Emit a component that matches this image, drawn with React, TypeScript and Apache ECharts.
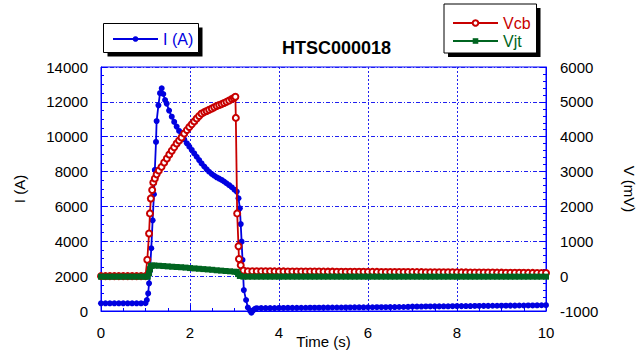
import React, { useEffect, useRef } from 'react';
import * as echarts from 'echarts';

const FONT = '"Liberation Sans", Arial, Helvetica, sans-serif';
const BLUE = '#0000e0';
const RED = '#c80000';
const GREEN = '#006420';
const AXIS_BLUE = '#0000ff';
const GRID_BLUE = '#2020f0';

const chartTitle = 'HTSC000018';
const xName = 'Time (s)';
const yLeftName = 'I (A)';
const yRightName = 'V (mV)';

// [time (s), current (A)]
const currentA: [number, number][] = [
  [0, 440], [0.1, 440], [0.2, 440], [0.3, 440], [0.4, 440], [0.5, 440], [0.6, 440], [0.7, 440], [0.8, 440], [0.9, 440], [1.0, 450],
  [1.03, 630], [1.06, 1010], [1.08, 1590], [1.1, 2300], [1.13, 3600], [1.16, 5200], [1.19, 6700], [1.21, 8100], [1.236, 9700],
  [1.25, 10900], [1.29, 11800], [1.326, 12500], [1.364, 12780], [1.4, 12450], [1.44, 12100], [1.476, 11900], [1.53, 11500],
  [1.59, 11150], [1.645, 10850], [1.7, 10580], [1.755, 10330], [1.81, 10100], [1.87, 9850], [1.93, 9620], [1.985, 9430],
  [2.04, 9240], [2.095, 9040], [2.15, 8850], [2.205, 8660], [2.26, 8470], [2.32, 8290], [2.375, 8130], [2.43, 7990],
  [2.49, 7860], [2.545, 7760], [2.6, 7670], [2.655, 7600], [2.71, 7520], [2.765, 7430], [2.82, 7330], [2.88, 7220],
  [2.94, 7100], [3.0, 6960], [3.05, 6850], [3.09, 6470], [3.12, 5890], [3.14, 4990], [3.16, 3980], [3.18, 2930],
  [3.21, 1200], [3.26, 630], [3.3, 200], [3.35, 20], [3.38, -100], [3.42, 40], [3.46, 130],
  [3.5, 160], [3.6, 165], [3.7, 165], [3.8, 170], [3.9, 170], [4.0, 175], [4.1, 175], [4.2, 180], [4.3, 180], [4.4, 180],
  [4.5, 185], [4.6, 185], [4.7, 190], [4.8, 190], [4.9, 190], [5.0, 195], [5.1, 195], [5.2, 200], [5.3, 200], [5.4, 200],
  [5.5, 205], [5.6, 205], [5.7, 210], [5.8, 210], [5.9, 210], [6.0, 215], [6.1, 215], [6.2, 220], [6.3, 220], [6.4, 220],
  [6.5, 225], [6.6, 225], [6.7, 230], [6.8, 230], [6.9, 235], [7.0, 250], [7.1, 255], [7.2, 255], [7.3, 260], [7.4, 260],
  [7.5, 265], [7.6, 265], [7.7, 270], [7.8, 270], [7.9, 275], [8.0, 280], [8.1, 280], [8.2, 285], [8.3, 285], [8.4, 290],
  [8.5, 290], [8.6, 295], [8.7, 295], [8.8, 300], [8.9, 300], [9.0, 305], [9.1, 305], [9.2, 310], [9.3, 310], [9.4, 315],
  [9.5, 315], [9.6, 320], [9.7, 320], [9.8, 325], [9.9, 330], [10.0, 335],
];

// [time (s), Vcb (mV)]
const vcbMv: [number, number][] = [
  [0, 0], [0.1, 0], [0.2, 0], [0.3, 0], [0.4, 0], [0.5, 0], [0.6, 0], [0.7, 0], [0.8, 0], [0.9, 0], [1.0, 0],
  [1.04, 470], [1.08, 1225], [1.1, 1800], [1.12, 2230], [1.15, 2470], [1.175, 2690], [1.21, 2800], [1.25, 2920],
  [1.3, 3030], [1.36, 3135], [1.42, 3260], [1.48, 3375], [1.535, 3490], [1.59, 3595], [1.645, 3700], [1.7, 3805],
  [1.755, 3890], [1.81, 3980], [1.87, 4090], [1.93, 4190], [1.985, 4280], [2.04, 4360], [2.095, 4440], [2.15, 4520],
  [2.205, 4595], [2.26, 4665], [2.32, 4705], [2.375, 4740], [2.43, 4775], [2.49, 4810], [2.545, 4845], [2.6, 4880],
  [2.655, 4910], [2.71, 4935], [2.765, 4965], [2.82, 5000], [2.88, 5040], [2.94, 5080], [2.985, 5110], [3.02, 5145],
  [3.03, 4540], [3.06, 1800], [3.09, 860], [3.1, 490], [3.14, 315], [3.2, 160],
  [3.3, 140], [3.4, 140], [3.5, 140], [3.6, 139], [3.7, 138], [3.8, 138], [3.9, 137], [4.0, 136], [4.1, 136], [4.2, 135],
  [4.3, 135], [4.4, 134], [4.5, 133], [4.6, 133], [4.7, 132], [4.8, 131], [4.9, 131], [5.0, 130], [5.1, 129], [5.2, 129],
  [5.3, 128], [5.4, 127], [5.5, 127], [5.6, 126], [5.7, 125], [5.8, 125], [5.9, 124], [6.0, 123], [6.1, 123], [6.2, 122],
  [6.3, 121], [6.4, 121], [6.5, 120], [6.6, 119], [6.7, 119], [6.8, 118], [6.9, 117], [7.0, 116], [7.1, 116], [7.2, 115],
  [7.3, 114], [7.4, 113], [7.5, 113], [7.6, 112], [7.7, 111], [7.8, 110], [7.9, 110], [8.0, 109], [8.1, 108], [8.2, 107],
  [8.3, 106], [8.4, 106], [8.5, 105], [8.6, 104], [8.7, 103], [8.8, 102], [8.9, 101], [9.0, 100], [9.1, 99], [9.2, 98],
  [9.3, 97], [9.4, 96], [9.5, 95], [9.6, 94], [9.7, 93], [9.8, 92], [9.9, 91], [10.0, 90],
];

// [time (s), Vjt (mV)]
const vjtMv: [number, number][] = [
  [0, -15], [0.1, -15], [0.2, -15], [0.3, -15], [0.4, -15], [0.5, -15], [0.6, -15], [0.7, -15], [0.8, -15], [0.9, -15], [1.0, -15],
  [1.05, -15], [1.08, 80], [1.1, 200], [1.12, 290], [1.15, 305], [1.2, 305], [1.3, 298], [1.4, 290], [1.5, 280], [1.6, 270],
  [1.7, 262], [1.8, 255], [1.9, 245], [2.0, 232], [2.1, 222], [2.2, 212], [2.3, 202], [2.4, 192], [2.5, 182], [2.6, 168],
  [2.7, 158], [2.8, 148], [2.9, 138], [3.0, 128], [3.05, 120], [3.08, 60], [3.12, 5], [3.2, -15],
  [3.3, -15], [3.4, -15], [3.5, -15], [3.6, -15], [3.7, -15], [3.8, -15], [3.9, -15], [4.0, -15], [4.1, -15], [4.2, -15],
  [4.3, -15], [4.4, -15], [4.5, -15], [4.6, -15], [4.7, -15], [4.8, -15], [4.9, -15], [5.0, -15], [5.1, -15], [5.2, -15],
  [5.3, -15], [5.4, -15], [5.5, -15], [5.6, -15], [5.7, -15], [5.8, -15], [5.9, -15], [6.0, -15], [6.1, -15], [6.2, -15],
  [6.3, -15], [6.4, -15], [6.5, -15], [6.6, -15], [6.7, -15], [6.8, -15], [6.9, -15], [7.0, -15], [7.1, -15], [7.2, -15],
  [7.3, -15], [7.4, -15], [7.5, -15], [7.6, -15], [7.7, -15], [7.8, -15], [7.9, -15], [8.0, -15], [8.1, -15], [8.2, -15],
  [8.3, -15], [8.4, -15], [8.5, -15], [8.6, -15], [8.7, -15], [8.8, -15], [8.9, -15], [9.0, -15], [9.1, -15], [9.2, -15],
  [9.3, -15], [9.4, -15], [9.5, -15], [9.6, -15], [9.7, -15], [9.8, -15], [9.9, -15], [10.0, -15],
];

const xRange = { min: 0, max: 10, interval: 2 };
const yLeftRange = { min: 0, max: 14000, interval: 2000 };
const yRightRange = { min: -1000, max: 6000, interval: 1000 };

const labelStyle = { color: '#000', fontSize: 15, fontFamily: FONT };
const plain = (v: number) => String(v);

export default function App() {
  const ref = useRef<HTMLDivElement>(null);
  useEffect(() => {
    document.body.style.margin = '0';
    const chart = echarts.init(ref.current!, null, { renderer: 'svg' });
    const option: any = {
      animation: false,
      backgroundColor: '#fff',
      textStyle: { fontFamily: FONT },
      title: {
        text: chartTitle,
        left: 282,
        top: 39,
        padding: 0,
        textStyle: { fontSize: 18, fontWeight: 'bold', color: '#000', fontFamily: FONT },
      },
      graphic: [
        { type: 'rect', z: 1, silent: true, shape: { x: 107.5, y: 27.5, width: 95, height: 29 }, style: { fill: '#000' } },
        { type: 'rect', z: 2, silent: true, shape: { x: 103.5, y: 23.5, width: 95, height: 29 }, style: { fill: '#fff', stroke: '#000', lineWidth: 1 } },
        { type: 'rect', z: 1, silent: true, shape: { x: 448, y: 8, width: 92.5, height: 49 }, style: { fill: '#000' } },
        { type: 'rect', z: 2, silent: true, shape: { x: 444, y: 4, width: 92.5, height: 49 }, style: { fill: '#fff', stroke: '#000', lineWidth: 1 } },
      ],
      legend: [
        {
          data: [{ name: 'I (A)', textStyle: { color: BLUE } }],
          left: 112,
          top: 31,
          padding: 0,
          itemWidth: 45,
          itemHeight: 7,
          selectedMode: false,
          z: 10,
          textStyle: { fontSize: 16, fontFamily: FONT },
        },
        {
          data: [
            { name: 'Vcb', textStyle: { color: RED } },
            { name: 'Vjt', textStyle: { color: GREEN } },
          ],
          orient: 'vertical',
          left: 452,
          top: 15,
          padding: 0,
          itemGap: 2,
          itemWidth: 45,
          itemHeight: 7,
          selectedMode: false,
          z: 10,
          textStyle: { fontSize: 16, fontFamily: FONT },
        },
      ],
      grid: {
        left: 101,
        right: 91,
        top: 67,
        bottom: 42,
        containLabel: false,
        outerBoundsMode: 'none',
        show: true,
        borderColor: AXIS_BLUE,
        borderWidth: 1,
        backgroundColor: 'transparent',
      },
      xAxis: {
        type: 'value',
        ...xRange,
        name: xName,
        nameLocation: 'middle',
        nameGap: 23,
        nameMoveOverlap: false,
        nameTextStyle: { ...labelStyle },
        axisLine: { show: true, lineStyle: { color: AXIS_BLUE, width: 1 } },
        axisTick: { show: true, inside: true, length: 6, lineStyle: { color: AXIS_BLUE } },
        minorTick: { show: true, splitNumber: 4, length: 3, lineStyle: { color: AXIS_BLUE } },
        axisLabel: { ...labelStyle, margin: 14, formatter: plain },
        splitLine: { show: true, lineStyle: { color: GRID_BLUE, type: [2, 2], width: 1 } },
      },
      yAxis: [
        {
          type: 'value',
          position: 'left',
          ...yLeftRange,
          name: yLeftName,
          nameLocation: 'middle',
          nameGap: 74,
          nameMoveOverlap: false,
          nameTextStyle: { ...labelStyle },
          axisLine: { show: true, lineStyle: { color: AXIS_BLUE, width: 1 } },
          axisTick: { show: true, inside: true, length: 6, lineStyle: { color: AXIS_BLUE } },
          minorTick: { show: true, splitNumber: 4, length: 3, lineStyle: { color: AXIS_BLUE } },
          axisLabel: { ...labelStyle, margin: 13, formatter: plain },
          splitLine: { show: true, lineStyle: { color: GRID_BLUE, type: [4, 2, 1, 2], width: 1 } },
        },
        {
          type: 'value',
          position: 'right',
          ...yRightRange,
          name: yRightName,
          nameLocation: 'middle',
          nameRotate: -90,
          nameGap: 76,
          nameMoveOverlap: false,
          nameTextStyle: { ...labelStyle },
          axisLine: { show: true, lineStyle: { color: AXIS_BLUE, width: 1 } },
          axisTick: { show: true, inside: true, length: 6, lineStyle: { color: AXIS_BLUE } },
          minorTick: { show: true, splitNumber: 5, length: 3, lineStyle: { color: AXIS_BLUE } },
          axisLabel: { ...labelStyle, margin: 14, formatter: plain },
          splitLine: { show: false },
        },
      ],
      series: [
        {
          name: 'I (A)',
          type: 'line',
          yAxisIndex: 0,
          data: currentA,
          symbol: 'circle',
          symbolSize: 6,
          showSymbol: true,
          showAllSymbol: true,
          clip: false,
          silent: true,
          lineStyle: { color: BLUE, width: 1.8 },
          itemStyle: { color: BLUE },
          emphasis: { disabled: true },
          z: 3,
        },
        {
          name: 'Vcb',
          type: 'line',
          yAxisIndex: 1,
          data: vcbMv,
          symbol: 'emptyCircle',
          symbolSize: 6,
          showSymbol: true,
          showAllSymbol: true,
          silent: true,
          lineStyle: { color: RED, width: 1.8 },
          itemStyle: { color: RED, borderColor: RED, borderWidth: 1.5 },
          emphasis: { disabled: true },
          z: 4,
        },
        {
          name: 'Vjt',
          type: 'line',
          yAxisIndex: 1,
          data: vjtMv,
          symbol: 'rect',
          symbolSize: 6,
          showSymbol: true,
          showAllSymbol: true,
          silent: true,
          lineStyle: { color: GREEN, width: 1.8 },
          itemStyle: { color: GREEN },
          emphasis: { disabled: true },
          z: 5,
        },
      ],
    };
    chart.setOption(option);
    return () => chart.dispose();
  }, []);
  return <div ref={ref} style={{ width: 637, height: 353 }} />;
}
